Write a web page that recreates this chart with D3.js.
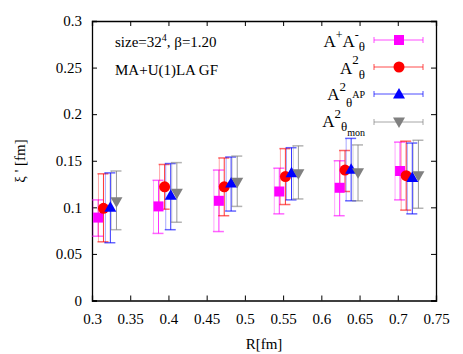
<!DOCTYPE html>
<html>
<head>
<meta charset="utf-8">
<script src="https://cdn.jsdelivr.net/npm/d3@7"></script>
<style>
  body { margin: 0; background: #fff; }
  text { font-family: "Liberation Serif", "DejaVu Serif", serif; fill: #000; }
</style>
</head>
<body>
<div id="chart"></div>
<script>
// data: R [fm], xi' [fm], lower and upper error ends
const seriesNames = ["AA", "A2", "A2AP", "A2mon"];
const seriesColors = ["#ff00ff", "#ff0000", "#0000ff", "#808080"];

const rAA = [0.308, 0.387, 0.466, 0.545, 0.624, 0.703];
const yAA = [0.089, 0.101, 0.107, 0.117, 0.121, 0.139];
const loAA = [0.069, 0.072, 0.074, 0.093, 0.091, 0.108];
const hiAA = [0.108, 0.129, 0.140, 0.142, 0.150, 0.170];

const rA2 = [0.315, 0.395, 0.473, 0.553, 0.631, 0.711];
const yA2 = [0.099, 0.122, 0.122, 0.133, 0.140, 0.134];
const loA2 = [0.063, 0.098, 0.091, 0.103, 0.117, 0.097];
const hiA2 = [0.136, 0.146, 0.153, 0.163, 0.161, 0.171];

const rAP = [0.324, 0.403, 0.482, 0.561, 0.639, 0.719];
const yAP = [0.100, 0.113, 0.126, 0.137, 0.141, 0.132];
const loAP = [0.062, 0.076, 0.096, 0.108, 0.107, 0.093];
const hiAP = [0.137, 0.147, 0.154, 0.164, 0.174, 0.169];

const rMon = [0.332, 0.411, 0.490, 0.570, 0.648, 0.727];
const yMon = [0.106, 0.115, 0.127, 0.136, 0.137, 0.134];
const loMon = [0.076, 0.084, 0.101, 0.109, 0.107, 0.099];
const hiMon = [0.139, 0.148, 0.155, 0.166, 0.167, 0.172];

const xTicks = [0.3, 0.35, 0.4, 0.45, 0.5, 0.55, 0.6, 0.65, 0.7, 0.75];
const yTicks = [0, 0.05, 0.1, 0.15, 0.2, 0.25, 0.3];

const series = [
  { r: rAA, y: yAA, lo: loAA, hi: hiAA },
  { r: rA2, y: yA2, lo: loA2, hi: hiA2 },
  { r: rAP, y: yAP, lo: loAP, hi: hiAP },
  { r: rMon, y: yMon, lo: loMon, hi: hiMon }
].map((s, i) => ({
  name: seriesNames[i],
  color: seriesColors[i],
  points: s.r.map((r, j) => ({ r: r, y: s.y[j], lo: s.lo[j], hi: s.hi[j] }))
}));

const width = 463;
const height = 354;
const margin = { top: 21, right: 27, bottom: 53.5, left: 92 };

const svg = d3.select("#chart")
  .append("svg")
  .attr("width", width)
  .attr("height", height);

const x = d3.scaleLinear()
  .domain([0.3, 0.75])
  .range([margin.left, width - margin.right]);

const y = d3.scaleLinear()
  .domain([0, 0.3])
  .range([height - margin.bottom, margin.top]);

// axes with inward ticks, mirrored on top and right
const axisG = svg.append("g");
axisG.append("g")
  .attr("transform", `translate(0,${y(0)})`)
  .call(d3.axisBottom(x).tickValues(xTicks).tickSize(-5).tickPadding(13)
    .tickFormat(d => d3.format("")(+d.toFixed(2))));
axisG.append("g")
  .attr("transform", `translate(0,${y(0.3)})`)
  .call(d3.axisTop(x).tickValues(xTicks).tickSize(-5).tickFormat(""));
axisG.append("g")
  .attr("transform", `translate(${x(0.3)},0)`)
  .call(d3.axisLeft(y).tickValues(yTicks).tickSize(-5).tickPadding(10)
    .tickFormat(d => d3.format("")(+d.toFixed(2))));
axisG.append("g")
  .attr("transform", `translate(${x(0.75)},0)`)
  .call(d3.axisRight(y).tickValues(yTicks).tickSize(-5).tickFormat(""));

axisG.selectAll("g").attr("font-family", null);
axisG.selectAll(".domain").attr("stroke", "#000").attr("stroke-width", 1.3);
axisG.selectAll(".tick line").attr("stroke", "#000");
axisG.selectAll(".tick text")
  .style("font-family", '"Liberation Serif", serif')
  .style("font-size", "15px")
  .attr("fill", "#000");

// axis titles
svg.append("text")
  .attr("x", x(0.525))
  .attr("y", 349)
  .attr("text-anchor", "middle")
  .style("font-size", "15px")
  .text("R[fm]");

svg.append("text")
  .attr("transform", `translate(25,161) rotate(-90)`)
  .attr("text-anchor", "middle")
  .style("font-size", "15px")
  .text("ξ ' [fm]");

// annotation
const note1 = svg.append("text")
  .attr("x", 115)
  .attr("y", 47)
  .style("font-size", "15px");
note1.append("tspan").text("size=32");
note1.append("tspan").attr("dy", -6).style("font-size", "10px").text("4");
note1.append("tspan").attr("dy", 6).text(", β=1.20");

svg.append("text")
  .attr("x", 115)
  .attr("y", 75)
  .style("font-size", "15px")
  .text("MA+U(1)LA GF");

// markers
function drawMarker(g, idx, color) {
  if (idx === 0) {
    g.append("rect").attr("x", -5).attr("y", -5).attr("width", 10).attr("height", 10).attr("fill", color);
  } else if (idx === 1) {
    g.append("circle").attr("r", 5.5).attr("fill", color);
  } else if (idx === 2) {
    g.append("path").attr("d", "M0,-6L6,4.5L-6,4.5Z").attr("fill", color);
  } else {
    g.append("path").attr("d", "M0,6L6,-4.5L-6,-4.5Z").attr("fill", color);
  }
}

// error bars
const plot = svg.append("g");
series.forEach((s, i) => {
  const g = plot.append("g");
  s.points.forEach(p => {
    const px = x(p.r);
    g.append("line")
      .attr("x1", px - 5).attr("x2", px - 5)
      .attr("y1", y(p.lo)).attr("y2", y(p.hi))
      .attr("stroke", s.color).attr("stroke-opacity", 0.35);
    g.append("line")
      .attr("x1", px).attr("x2", px)
      .attr("y1", y(p.lo)).attr("y2", y(p.hi))
      .attr("stroke", s.color).attr("stroke-opacity", 0.8);
    [p.lo, p.hi].forEach(v => {
      g.append("line")
        .attr("x1", px - 6).attr("x2", px + 5)
        .attr("y1", y(v)).attr("y2", y(v))
        .attr("stroke", s.color).attr("stroke-opacity", 0.6)
        .attr("stroke-width", 1.5);
    });
  });
});
series.forEach((s, i) => {
  s.points.forEach(p => {
    const g = plot.append("g").attr("transform", `translate(${x(p.r)},${y(p.y)})`);
    drawMarker(g, i, s.color);
  });
});

// legend
const legendY = [40, 67, 94, 122];
const legend = svg.append("g");
series.forEach((s, i) => {
  const ly = legendY[i];
  legend.append("line")
    .attr("x1", 374).attr("x2", 423).attr("y1", ly).attr("y2", ly)
    .attr("stroke", s.color).attr("stroke-opacity", 0.7);
  [374, 423].forEach(cx => {
    legend.append("line")
      .attr("x1", cx).attr("x2", cx).attr("y1", ly - 3).attr("y2", ly + 3)
      .attr("stroke", s.color).attr("stroke-opacity", 0.7);
  });
  const mg = legend.append("g").attr("transform", `translate(399,${ly})`);
  drawMarker(mg, i, s.color);
});

function legendText(yy) {
  return legend.append("text")
    .attr("x", 365).attr("y", yy)
    .attr("text-anchor", "end")
    .style("font-size", "17px");
}
let t = legendText(47);
t.append("tspan").text("A");
t.append("tspan").attr("dy", -8).style("font-size", "12px").text("+");
t.append("tspan").attr("dy", 8).text("A");
t.append("tspan").attr("dy", -8).style("font-size", "12px").text("-");
t.append("tspan").attr("dy", 12).style("font-size", "13px").text("θ");

t = legendText(74);
t.append("tspan").text("A");
t.append("tspan").attr("dy", -10).style("font-size", "13px").text("2");
t.append("tspan").attr("dy", 15).style("font-size", "13px").text("θ");

t = legendText(100);
t.append("tspan").text("A");
t.append("tspan").attr("dy", -9).style("font-size", "13px").text("2");
t.append("tspan").attr("dy", 16).style("font-size", "13px").text("θ");
t.append("tspan").attr("dy", -9).style("font-size", "10px").text("AP");

t = legendText(127);
t.append("tspan").text("A");
t.append("tspan").attr("dy", -9).style("font-size", "13px").text("2");
t.append("tspan").attr("dy", 13).style("font-size", "13px").text("θ");
t.append("tspan").attr("dy", 5).style("font-size", "10px").text("mon");
</script>
</body>
</html>
